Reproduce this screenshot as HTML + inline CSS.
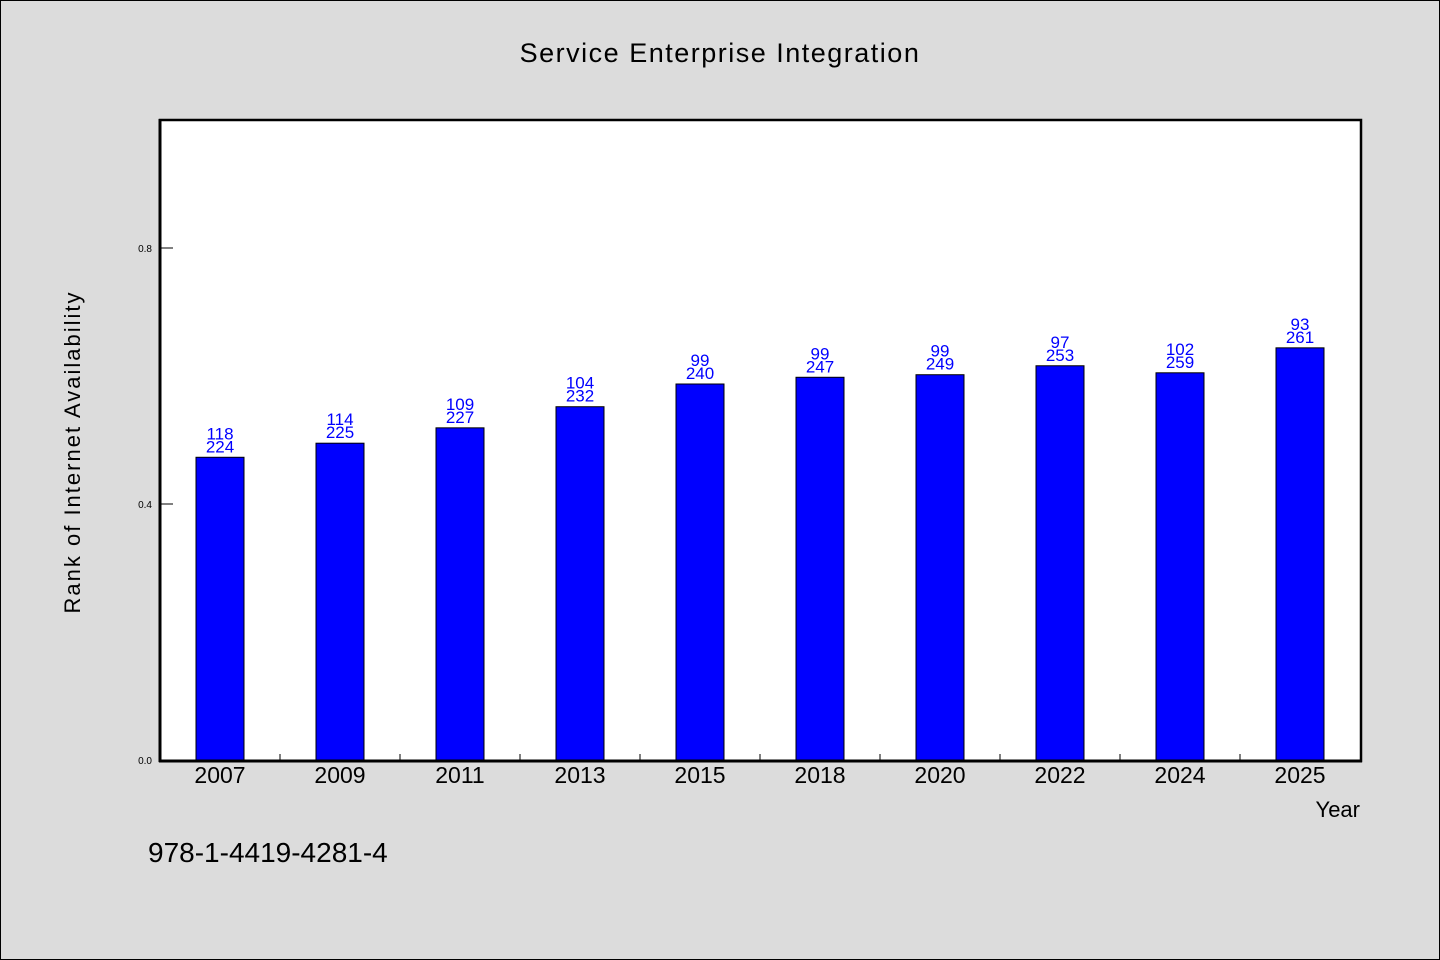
<!DOCTYPE html>
<html><head><meta charset="utf-8"><style>
body{margin:0;background:#dcdcdc;}
svg{display:block;font-family:"WenQuanYi Zen Hei","Liberation Sans",sans-serif;}
</style></head><body>
<svg id="c" width="1440" height="960">
<rect x="0.5" y="0.5" width="1439" height="959" fill="#dcdcdc" stroke="#000"/>
<text x="720" y="62" text-anchor="middle" font-size="27" letter-spacing="1.5">Service Enterprise Integration</text>
<rect x="160" y="120" width="1201" height="641" fill="#fff" stroke="#000" stroke-width="2.5"/>
<line x1="159" y1="761" x2="1362" y2="761" stroke="#000" stroke-width="3"/>
<line x1="160" y1="119" x2="160" y2="762" stroke="#000" stroke-width="3"/>
<g id="bars"></g>
<text x="80" y="452" transform="rotate(-90 80 452)" text-anchor="middle" font-size="22" letter-spacing="2">Rank of Internet Availability</text>
<text x="1360" y="817" text-anchor="end" font-size="22">Year</text>
<text x="148" y="862" font-size="28">978-1-4419-4281-4</text>
</svg>
<script>
const categories=["2007","2009","2011","2013","2015","2018","2020","2022","2024","2025"];
const values=[0.473,0.495,0.519,0.552,0.5875,0.598,0.602,0.616,0.605,0.644];
const labelTop=["118","114","109","104","99","99","99","97","102","93"];
const labelBottom=["224","225","227","232","240","247","249","253","259","261"];
const yTicks=[0.0,0.4,0.8];
const yTickLabels=["0.0","0.4","0.8"];
const NS="http://www.w3.org/2000/svg";
const g=document.getElementById('bars');
const x0=160,step=120,y0=760,ppu=640;
const xc=i=>x0+step*(i+0.5);
const ys=v=>y0-v*ppu;
function mk(t,a,txt){const e=document.createElementNS(NS,t);for(const k in a)e.setAttribute(k,a[k]);if(txt!==undefined)e.textContent=txt;g.appendChild(e);return e;}
yTicks.forEach((v,i)=>{
  const l=mk('line',{x1:161,x2:173,y1:ys(v),y2:ys(v),stroke:'#000','stroke-width':1});
  
  
  const t=mk('text',{x:152,y:ys(v)+4,'text-anchor':'end','font-size':10},yTickLabels[i]);
  
  
});
categories.forEach((c,i)=>{
  if(i>0){const l=mk('line',{x1:x0+step*i,x2:x0+step*i,y1:754,y2:760,stroke:'#000'});
  
  }
  const top=ys(values[i]);
  const r=mk('rect',{x:xc(i)-24,y:top,width:48,height:y0-top,fill:'#0000ff',stroke:'#000','stroke-width':1});
  
  
  const a=mk('text',{x:xc(i),y:top-18,'text-anchor':'middle','font-size':17,fill:'#0000ff'},labelTop[i]);
  
  
  const b=mk('text',{x:xc(i),y:top-5,'text-anchor':'middle','font-size':17,fill:'#0000ff'},labelBottom[i]);
  
  
  const t=mk('text',{x:xc(i),y:783,'text-anchor':'middle','font-size':23},c);
  
  
});
</script>
</body></html>
